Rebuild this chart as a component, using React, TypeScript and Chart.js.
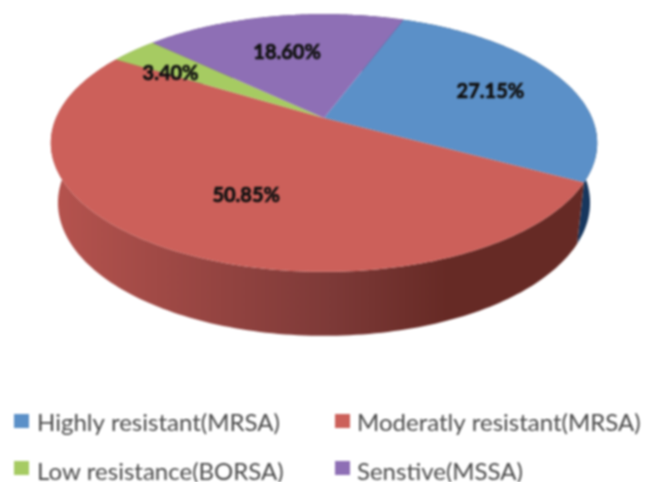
import React, { useEffect, useRef } from "react";
import { Chart, registerables } from "chart.js";

Chart.register(...registerables);

const categories = [
  "Highly resistant(MRSA)",
  "Moderatly resistant(MRSA)",
  "Low resistance(BORSA)",
  "Senstive(MSSA)",
];
const shares = [27.15, 50.85, 3.4, 18.6];
const valueLabels = ["27.15%", "50.85%", "3.40%", "18.60%"];
const faceColors = ["#5b90c8", "#cc605a", "#a6cb62", "#8e6fb5"];
const sideColors = [
  ["#2a5a8f", "#204a78", "#17375e"],
  ["#b5534e", "#7e3a38", "#662a25"],
  ["#7f9c48", "#6e8a3e", "#5e7634"],
  ["#6a5288", "#5a4676", "#4c3a63"],
];
const labelRadius = [0.66, 0.6, 0.76, 0.61];
const labelNudge = [
  [8, 1],
  [11, 6],
  [-5, 8],
  [-4, 1],
];
const legendCells = [
  { sx: 14, tx: 37, sy: 414, y: 423 },
  { sx: 335, tx: 357, sy: 414, y: 423 },
  { sx: 14, tx: 37, sy: 461, y: 472 },
  { sx: 335, tx: 357, sy: 461, y: 472 },
];

const K = -0.194;
const top = { cx: 324, cy: 118, a: 268, b: 124 };
const low = { cx: 324, cy: 177, a: 261, b: 128 };
const project = (g: any, a: number, r = 1) => {
  const x = Math.cos(a) * r;
  const y = Math.sin(a) * r;
  const d = 1 + K * y;
  return [g.cx + (g.a * x) / d, g.cy + (g.b * y) / d];
};

const pie3d = {
  id: "pie3d",
  beforeDatasetDraw(chart: any) {
    const ctx = chart.ctx;
    const arcs = chart.getDatasetMeta(0).data;
    const N = 160;
    arcs.forEach((arc: any, i: number) => {
      const { startAngle: s, endAngle: e } = arc;
      const g = ctx.createLinearGradient(55, 0, 600, 0);
      g.addColorStop(0, sideColors[i][0]);
      g.addColorStop(0.5, sideColors[i][1]);
      g.addColorStop(0.72, sideColors[i][2]);
      g.addColorStop(1, sideColors[i][2]);
      ctx.fillStyle = g;
      ctx.beginPath();
      for (let k = 0; k <= N; k++) {
        const p = project(top, s + ((e - s) * k) / N);
        k === 0 ? ctx.moveTo(p[0], p[1]) : ctx.lineTo(p[0], p[1]);
      }
      for (let k = N; k >= 0; k--) {
        const p = project(low, s + ((e - s) * k) / N);
        ctx.lineTo(p[0], p[1]);
      }
      ctx.closePath();
      ctx.fill();
    });
    arcs.forEach((arc: any, i: number) => {
      const { startAngle: s, endAngle: e } = arc;
      ctx.fillStyle = faceColors[i];
      ctx.beginPath();
      ctx.moveTo(top.cx, top.cy);
      for (let k = 0; k <= N; k++) {
        const p = project(top, s + ((e - s) * k) / N);
        ctx.lineTo(p[0], p[1]);
      }
      ctx.closePath();
      ctx.fill();
    });
    ctx.fillStyle = "#111";
    ctx.strokeStyle = "#111";
    ctx.lineWidth = 0.7;
    ctx.font = "bold 20px Lato";
    ctx.textAlign = "center";
    ctx.textBaseline = "middle";
    arcs.forEach((arc: any, i: number) => {
      const p = project(top, (arc.startAngle + arc.endAngle) / 2, labelRadius[i]);
      ctx.fillText(valueLabels[i], p[0] + labelNudge[i][0], p[1] + labelNudge[i][1]);
      ctx.strokeText(valueLabels[i], p[0] + labelNudge[i][0], p[1] + labelNudge[i][1]);
    });
    categories.forEach((c, i) => {
      const cell = legendCells[i];
      ctx.fillStyle = faceColors[i];
      ctx.fillRect(cell.sx, cell.sy, 15, 14);
      ctx.fillStyle = "#4a4a4a";
      ctx.font = "24px Lato";
      ctx.textAlign = "left";
      ctx.fillText(c, cell.tx, cell.y);
    });
    return false;
  },
};

export default function App() {
  const ref = useRef<HTMLCanvasElement>(null);
  useEffect(() => {
    const chart = new Chart(ref.current!, {
      type: "pie",
      data: {
        labels: categories,
        datasets: [{ data: shares, backgroundColor: faceColors, borderWidth: 0 }],
      },
      options: {
        animation: false,
        responsive: false,
        rotation: 20.5,
        plugins: { legend: { display: false }, tooltip: { enabled: false } },
      },
      plugins: [pie3d],
    } as any);
    return () => chart.destroy();
  }, []);
  return (
    <div style={{ position: "absolute", left: 0, top: 0, width: 647, height: 482, overflow: "hidden", background: "#fff" }}>
      <canvas ref={ref} width={647} height={482} style={{ display: "block", filter: "blur(1px)" }} />
    </div>
  );
}
